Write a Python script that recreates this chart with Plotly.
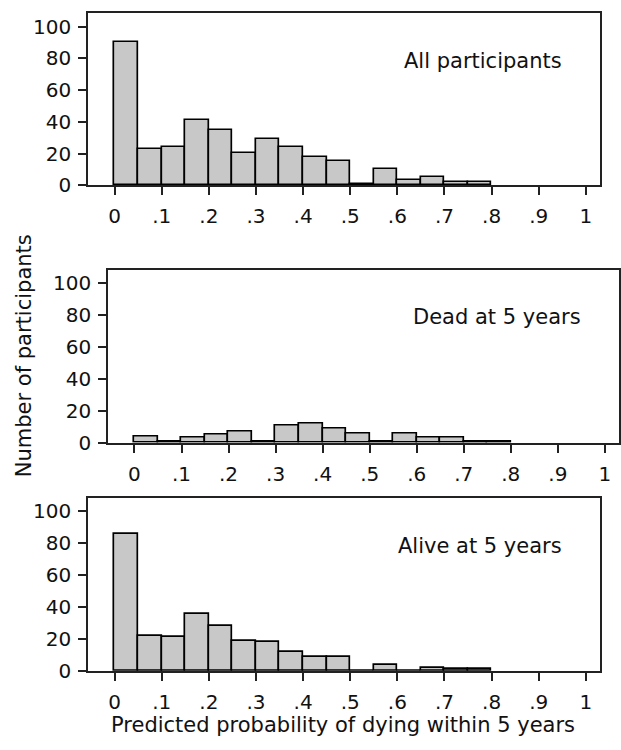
import plotly.graph_objects as go

# ---- data ----
bin_starts = [0.00, 0.05, 0.10, 0.15, 0.20, 0.25, 0.30, 0.35,
              0.40, 0.45, 0.50, 0.55, 0.60, 0.65, 0.70, 0.75]
bin_width = 0.05
all_counts = [90, 23, 24, 41, 35, 20, 29, 24, 18, 15, 1, 10, 3, 5, 2, 2]
dead_counts = [4, 1, 3, 5, 7, 1, 11, 12, 9, 6, 1, 6, 3, 3, 1, 1]
alive_counts = [86, 22, 21, 36, 28, 19, 18, 12, 9, 9, 0, 4, 0, 2, 1, 1]
panel_labels = ["All participants", "Dead at 5 years", "Alive at 5 years"]
x_tickvals = [0, 0.1, 0.2, 0.3, 0.4, 0.5, 0.6, 0.7, 0.8, 0.9, 1.0]
x_ticktext = ["0", ".1", ".2", ".3", ".4", ".5", ".6", ".7", ".8", ".9", "1"]
y_tickvals = [0, 20, 40, 60, 80, 100]
y_title = "Number of participants"
x_title = "Predicted probability of dying within 5 years"

W, H = 621, 750
FONT = "DejaVu Sans, Verdana, sans-serif"
INK = "#111111"

# panel boxes in pixels: (left, right, top, bottom)
boxes = [(88.3, 601, 13.3, 188.3),
         (108.3, 620, 274, 450),
         (88.3, 601, 506, 681.7)]
label_pos = [(565, 62), (584, 321.7), (565, 555)]

centers = [s + bin_width / 2 for s in bin_starts]
series = [all_counts, dead_counts, alive_counts]

fig = go.Figure()
layout = dict(width=W, height=H, margin=dict(l=0, r=0, t=0, b=0),
              plot_bgcolor="white", paper_bgcolor="white",
              showlegend=False, bargap=0,
              font=dict(family=FONT, color=INK, size=20))
annotations = []
for i, (counts, box, lab, lp) in enumerate(zip(series, boxes, panel_labels, label_pos)):
    n = "" if i == 0 else str(i + 1)
    fig.add_trace(go.Bar(x=centers, y=counts, width=bin_width,
                         marker=dict(color="#c8c8c8", line=dict(color="#000000", width=1.7)),
                         xaxis="x" + n, yaxis="y" + n, hoverinfo="x+y"))
    l, r, t, b = box
    axis_common = dict(showline=True, mirror=True, linecolor="#222222", linewidth=1.7,
                       ticks="outside", ticklen=8, tickwidth=1.5, tickcolor="#222222",
                       showgrid=False, zeroline=False,
                       tickfont=dict(family=FONT, size=20, color=INK))
    layout["xaxis" + n] = dict(axis_common, domain=[l / W, r / W], range=[-0.056, 1.03],
                               tickvals=x_tickvals, ticktext=x_ticktext,
                               anchor="y" + n, ticklabelstandoff=4)
    layout["yaxis" + n] = dict(axis_common, domain=[1 - b / H, 1 - t / H], range=[0, 108.5],
                               tickvals=y_tickvals, anchor="x" + n, ticklabelstandoff=3)
    annotations.append(dict(text=lab, xref="paper", yref="paper",
                            x=lp[0] / W, y=1 - lp[1] / H, xanchor="right", yanchor="middle",
                            showarrow=False, font=dict(family=FONT, size=21, color=INK)))

annotations.append(dict(text=y_title, xref="paper", yref="paper", x=24 / W, y=1 - 361 / H,
                        textangle=-90, xanchor="center", yanchor="middle", showarrow=False,
                        font=dict(family=FONT, size=21, color=INK)))
annotations.append(dict(text=x_title, xref="paper", yref="paper", x=344 / W, y=1 - 737 / H,
                        xanchor="center", yanchor="middle", showarrow=False,
                        font=dict(family=FONT, size=21, color=INK)))
layout["annotations"] = annotations
fig.update_layout(**layout)
fig.write_html("out.html")
